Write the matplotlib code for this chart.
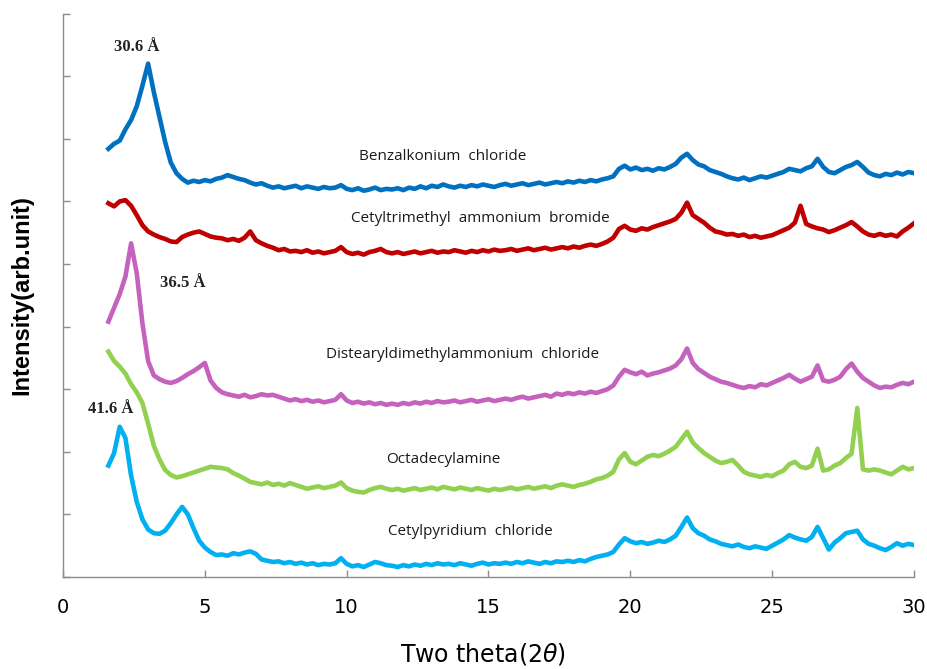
import numpy as np
import matplotlib.pyplot as plt

# 2-theta grid (degrees), 0.2 step
two_theta = np.round(np.arange(1.6, 30.0001, 0.2), 2)

benzalkonium = [
    6.84, 6.92, 6.97, 7.15, 7.30, 7.52, 7.85, 8.20, 7.75, 7.35,
    6.95, 6.62, 6.45, 6.36, 6.30, 6.33, 6.31, 6.34, 6.32, 6.36,
    6.38, 6.42, 6.39, 6.36, 6.34, 6.30, 6.27, 6.29, 6.25, 6.22,
    6.24, 6.21, 6.23, 6.25, 6.21, 6.24, 6.22, 6.20, 6.23, 6.21,
    6.22, 6.26, 6.20, 6.18, 6.21, 6.17, 6.19, 6.22, 6.18, 6.20,
    6.19, 6.21, 6.18, 6.22, 6.20, 6.24, 6.21, 6.25, 6.23, 6.27,
    6.24, 6.22, 6.25, 6.23, 6.26, 6.24, 6.27, 6.25, 6.23, 6.26,
    6.28, 6.25, 6.27, 6.29, 6.26, 6.28, 6.30, 6.27, 6.29, 6.31,
    6.29, 6.32, 6.30, 6.33, 6.31, 6.34, 6.32, 6.35, 6.37, 6.40,
    6.52, 6.57, 6.51, 6.54, 6.50, 6.52, 6.49, 6.53, 6.51, 6.55,
    6.60, 6.70, 6.76, 6.66, 6.59, 6.56, 6.50, 6.47, 6.44, 6.40,
    6.37, 6.35, 6.38, 6.34, 6.37, 6.40, 6.38, 6.41, 6.44, 6.47,
    6.52, 6.50, 6.48, 6.53, 6.56, 6.68, 6.55, 6.47, 6.45, 6.50,
    6.55, 6.58, 6.63, 6.55, 6.46, 6.42, 6.40, 6.44, 6.42, 6.46,
    6.43, 6.47, 6.45,
]

ctab = [
    5.97, 5.92, 6.00, 6.02, 5.93, 5.78, 5.62, 5.52, 5.47, 5.43,
    5.40, 5.36, 5.35, 5.43, 5.47, 5.50, 5.52, 5.48, 5.44, 5.42,
    5.41, 5.38, 5.40, 5.37, 5.42, 5.52, 5.38, 5.33, 5.29, 5.26,
    5.22, 5.24, 5.20, 5.21, 5.19, 5.22, 5.18, 5.20, 5.17, 5.19,
    5.21, 5.27, 5.19, 5.16, 5.18, 5.15, 5.19, 5.21, 5.24, 5.19,
    5.17, 5.19, 5.16, 5.18, 5.20, 5.17, 5.19, 5.21, 5.18, 5.20,
    5.19, 5.22, 5.20, 5.18, 5.21, 5.19, 5.22, 5.20, 5.23, 5.21,
    5.22, 5.24, 5.21, 5.23, 5.25, 5.22, 5.24, 5.26, 5.23, 5.25,
    5.27, 5.25, 5.28, 5.26, 5.29, 5.31, 5.29, 5.32, 5.36, 5.42,
    5.56, 5.61, 5.55, 5.53, 5.57, 5.55, 5.59, 5.62, 5.65, 5.68,
    5.72, 5.82, 5.98, 5.78, 5.72, 5.66, 5.58, 5.52, 5.50, 5.47,
    5.48, 5.45, 5.47, 5.43, 5.45, 5.42, 5.44, 5.46, 5.50, 5.54,
    5.58, 5.66, 5.93, 5.64, 5.60, 5.57, 5.55, 5.51, 5.54, 5.58,
    5.62, 5.67, 5.60, 5.52, 5.47, 5.45, 5.48, 5.45, 5.47, 5.44,
    5.52, 5.58, 5.65,
]

ddac = [
    4.08, 4.30, 4.52, 4.80, 5.33, 4.85, 4.05, 3.45, 3.22, 3.16,
    3.12, 3.10, 3.13, 3.18, 3.24, 3.29, 3.35, 3.42, 3.14, 3.02,
    2.95, 2.92, 2.90, 2.88, 2.91, 2.87, 2.89, 2.92, 2.90, 2.91,
    2.88, 2.85, 2.82, 2.84, 2.81, 2.83, 2.80, 2.82, 2.79, 2.81,
    2.83, 2.92, 2.82, 2.78, 2.80, 2.77, 2.79, 2.76, 2.78, 2.75,
    2.77, 2.75, 2.78, 2.76, 2.79, 2.77, 2.80, 2.78, 2.81, 2.79,
    2.80, 2.82, 2.79, 2.81, 2.83, 2.80, 2.82, 2.84, 2.81, 2.83,
    2.85, 2.83, 2.86, 2.88, 2.85, 2.87, 2.89, 2.91, 2.88, 2.93,
    2.91, 2.94, 2.92, 2.95, 2.93, 2.96, 2.94, 2.97, 3.00, 3.06,
    3.20, 3.31, 3.27, 3.24, 3.28, 3.22, 3.25, 3.27, 3.30, 3.33,
    3.38, 3.48, 3.65, 3.42, 3.32, 3.26, 3.20, 3.16, 3.12, 3.10,
    3.07, 3.04, 3.02, 3.05, 3.03, 3.08, 3.06, 3.10, 3.14, 3.18,
    3.23, 3.17, 3.12, 3.16, 3.20, 3.38, 3.14, 3.12, 3.15, 3.20,
    3.32, 3.41, 3.28, 3.18, 3.12, 3.06, 3.02, 3.04, 3.03, 3.07,
    3.10, 3.08, 3.12,
]

octadecylamine = [
    3.60, 3.45, 3.36, 3.25, 3.08, 2.95, 2.78, 2.45, 2.10, 1.88,
    1.71, 1.63, 1.59, 1.61, 1.64, 1.67, 1.70, 1.73, 1.76, 1.75,
    1.74, 1.72, 1.66, 1.62, 1.57, 1.52, 1.50, 1.48, 1.51, 1.47,
    1.49, 1.46, 1.50, 1.47, 1.44, 1.41, 1.43, 1.45, 1.42, 1.44,
    1.46, 1.51, 1.42, 1.38, 1.36, 1.35, 1.39, 1.42, 1.44, 1.41,
    1.39, 1.41, 1.38, 1.40, 1.42, 1.39, 1.41, 1.43, 1.40, 1.44,
    1.42, 1.40, 1.43, 1.41, 1.39, 1.42, 1.40, 1.38, 1.41, 1.39,
    1.41, 1.43, 1.40, 1.42, 1.44, 1.41, 1.43, 1.45, 1.42, 1.46,
    1.48, 1.46, 1.44, 1.47, 1.49, 1.52, 1.56, 1.58, 1.62, 1.68,
    1.88, 1.98, 1.84, 1.80, 1.86, 1.92, 1.95, 1.93, 1.97, 2.02,
    2.08, 2.20, 2.32, 2.15, 2.06, 1.98, 1.92, 1.86, 1.82, 1.84,
    1.87, 1.78, 1.68, 1.64, 1.62, 1.60, 1.63, 1.61, 1.66, 1.70,
    1.80, 1.84, 1.76, 1.74, 1.78, 2.05, 1.70, 1.72, 1.78, 1.82,
    1.90, 1.97, 2.70, 1.72, 1.70, 1.72, 1.70, 1.67, 1.64, 1.70,
    1.76, 1.72, 1.74,
]

cetylpyridium = [
    1.78, 1.98, 2.40, 2.22, 1.62, 1.20, 0.92, 0.76, 0.70, 0.69,
    0.74, 0.86, 1.00, 1.12, 1.00, 0.78, 0.58, 0.47, 0.40, 0.35,
    0.36, 0.34, 0.38, 0.36, 0.39, 0.41, 0.37, 0.28, 0.26, 0.24,
    0.25, 0.22, 0.24, 0.21, 0.23, 0.20, 0.22, 0.19, 0.21, 0.20,
    0.22, 0.30, 0.21, 0.17, 0.19, 0.16, 0.20, 0.24, 0.22, 0.19,
    0.18, 0.16, 0.19, 0.17, 0.20, 0.18, 0.21, 0.19, 0.22, 0.20,
    0.21, 0.19, 0.22, 0.20, 0.18, 0.21, 0.23, 0.20, 0.22, 0.21,
    0.23, 0.21, 0.24, 0.22, 0.25, 0.23, 0.21, 0.24, 0.22, 0.25,
    0.24, 0.26, 0.24, 0.27, 0.25, 0.29, 0.32, 0.34, 0.36, 0.40,
    0.52, 0.62, 0.57, 0.54, 0.56, 0.53, 0.55, 0.58, 0.56, 0.60,
    0.66, 0.80, 0.95, 0.78, 0.70, 0.66, 0.60, 0.57, 0.53, 0.51,
    0.49, 0.52, 0.48, 0.46, 0.49, 0.47, 0.45, 0.50, 0.55, 0.60,
    0.67, 0.63, 0.60, 0.58, 0.64, 0.80, 0.62, 0.44, 0.55, 0.62,
    0.70, 0.72, 0.74, 0.60, 0.53, 0.50, 0.46, 0.43, 0.48, 0.54,
    0.50, 0.53, 0.51,
]

series = [
    (benzalkonium, '#0070C0', 'Benzalkonium  chloride', 13.4, 6.71),
    (ctab, '#C00000', 'Cetyltrimethyl  ammonium  bromide', 14.7, 5.72),
    (ddac, '#C462BE', 'Distearyldimethylammonium  chloride', 14.1, 3.56),
    (octadecylamine, '#92D050', 'Octadecylamine', 13.4, 1.88),
    (cetylpyridium, '#00B0F0', 'Cetylpyridium  chloride', 14.35, 0.73),
]

# d-spacings of the first reflections
d_labels = [('30.6 Å', 2.6, 8.47), ('36.5 Å', 4.23, 4.70), ('41.6 Å', 1.69, 2.68)]

fig = plt.figure(figsize=(9.28, 6.69), dpi=100)
ax = fig.add_axes([0.0679, 0.1375, 0.917, 0.8422])

for vals, color, name, lx, ly in series:
    ax.plot(two_theta, vals, color=color, lw=3.3, solid_joinstyle='round')
    ax.text(lx, ly, name, ha='center', va='center', fontsize=11,
            family=['Open Sans', 'DejaVu Sans'], color='#1a1a1a')

for txt, lx, ly in d_labels:
    ax.text(lx, ly, txt, ha='center', va='center', fontsize=12,
            family=['Liberation Serif', 'DejaVu Serif'], fontweight='bold',
            color='#222222')

ax.set_xlim(0, 30)
ax.set_ylim(0, 9)
ax.set_xticks(np.arange(0, 31, 5))
ax.set_yticks(np.arange(0, 10, 1))
ax.set_yticklabels([])
for s in ('top', 'right'):
    ax.spines[s].set_visible(False)
for s in ('left', 'bottom'):
    ax.spines[s].set_color('#8c8c8c')
    ax.spines[s].set_linewidth(1.0)
ax.tick_params(direction='in', length=5, color='#8c8c8c', width=1.0)
ax.tick_params(axis='x', pad=15, labelsize=14)

# axis titles placed in figure coordinates
fig.text(0.52, 0.022, r'Two theta(2$\theta$)', ha='center', va='center',
         fontsize=17, family='DejaVu Sans')
ax.set_ylabel('Intensity(arb.unit)', fontsize=17, fontweight='bold',
              family=['Liberation Sans', 'DejaVu Sans'], labelpad=18)

fig.savefig('out.png', dpi=100)
